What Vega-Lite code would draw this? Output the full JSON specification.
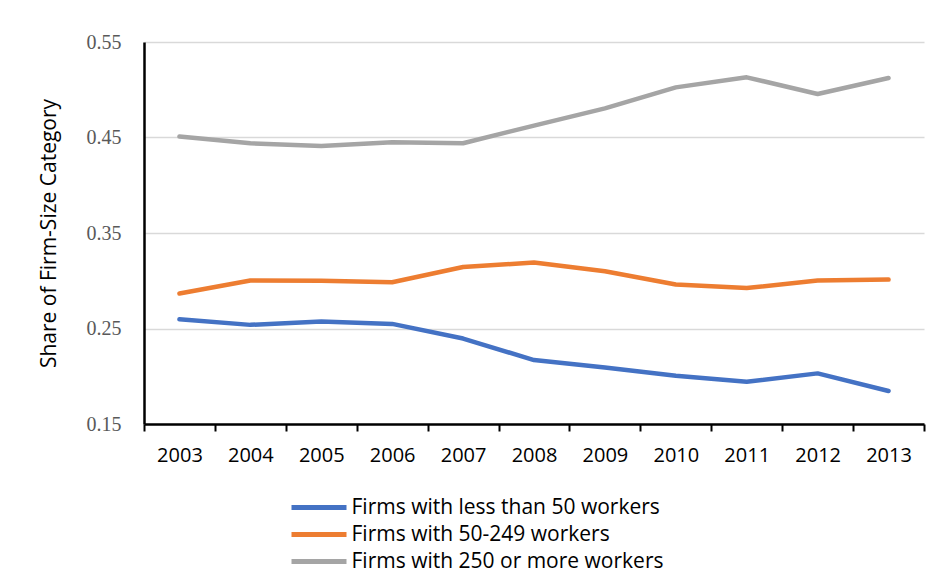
{
  "$schema": "https://vega.github.io/schema/vega-lite/v6.json",
  "autosize": "none",
  "width": 780,
  "height": 382,
  "padding": {"left": 144, "top": 42, "right": 15, "bottom": 157},
  "background": "white",
  "data": {
    "values": [
      {"year": "2003", "series": "Firms with less than 50 workers", "share": 0.2597},
      {"year": "2004", "series": "Firms with less than 50 workers", "share": 0.2538},
      {"year": "2005", "series": "Firms with less than 50 workers", "share": 0.2573},
      {"year": "2006", "series": "Firms with less than 50 workers", "share": 0.2548},
      {"year": "2007", "series": "Firms with less than 50 workers", "share": 0.2395},
      {"year": "2008", "series": "Firms with less than 50 workers", "share": 0.2169},
      {"year": "2009", "series": "Firms with less than 50 workers", "share": 0.2092},
      {"year": "2010", "series": "Firms with less than 50 workers", "share": 0.2005},
      {"year": "2011", "series": "Firms with less than 50 workers", "share": 0.1942},
      {"year": "2012", "series": "Firms with less than 50 workers", "share": 0.2030},
      {"year": "2013", "series": "Firms with less than 50 workers", "share": 0.1845},
      {"year": "2003", "series": "Firms with 50-249 workers", "share": 0.2866},
      {"year": "2004", "series": "Firms with 50-249 workers", "share": 0.3002},
      {"year": "2005", "series": "Firms with 50-249 workers", "share": 0.3000},
      {"year": "2006", "series": "Firms with 50-249 workers", "share": 0.2984},
      {"year": "2007", "series": "Firms with 50-249 workers", "share": 0.3144},
      {"year": "2008", "series": "Firms with 50-249 workers", "share": 0.3190},
      {"year": "2009", "series": "Firms with 50-249 workers", "share": 0.3100},
      {"year": "2010", "series": "Firms with 50-249 workers", "share": 0.2960},
      {"year": "2011", "series": "Firms with 50-249 workers", "share": 0.2924},
      {"year": "2012", "series": "Firms with 50-249 workers", "share": 0.3002},
      {"year": "2013", "series": "Firms with 50-249 workers", "share": 0.3012},
      {"year": "2003", "series": "Firms with 250 or more workers", "share": 0.4510},
      {"year": "2004", "series": "Firms with 250 or more workers", "share": 0.4440},
      {"year": "2005", "series": "Firms with 250 or more workers", "share": 0.4410},
      {"year": "2006", "series": "Firms with 250 or more workers", "share": 0.4450},
      {"year": "2007", "series": "Firms with 250 or more workers", "share": 0.4440},
      {"year": "2008", "series": "Firms with 250 or more workers", "share": 0.4625},
      {"year": "2009", "series": "Firms with 250 or more workers", "share": 0.4805},
      {"year": "2010", "series": "Firms with 250 or more workers", "share": 0.5025},
      {"year": "2011", "series": "Firms with 250 or more workers", "share": 0.5130},
      {"year": "2012", "series": "Firms with 250 or more workers", "share": 0.4955},
      {"year": "2013", "series": "Firms with 250 or more workers", "share": 0.5123}
    ]
  },
  "mark": {"type": "line", "strokeWidth": 4.5, "strokeCap": "round", "strokeJoin": "round"},
  "encoding": {
    "x": {
      "field": "year",
      "type": "ordinal",
      "title": null,
      "scale": {"paddingInner": 0, "paddingOuter": 0},
      "axis": {
        "labelAngle": 0,
        "labelFont": "Open Sans",
        "labelFontSize": 20,
        "labelColor": "#000000",
        "labelPadding": 14,
        "tickBand": "extent",
        "tickColor": "#000000",
        "tickSize": 7,
        "tickWidth": 2,
        "domainColor": "#000000",
        "domainWidth": 2.5,
        "grid": false
      }
    },
    "y": {
      "field": "share",
      "type": "quantitative",
      "title": "Share of Firm-Size Category",
      "scale": {"domain": [0.15, 0.55], "nice": false, "zero": false},
      "axis": {
        "values": [0.15, 0.25, 0.35, 0.45, 0.55],
        "format": ".2f",
        "labelFont": "Liberation Serif",
        "labelFontSize": 20,
        "labelColor": "#595959",
        "labelPadding": 23,
        "ticks": false,
        "domainColor": "#000000",
        "domainWidth": 2.5,
        "grid": true,
        "gridColor": "#d9d9d9",
        "gridWidth": 1.5,
        "titleFont": "Open Sans",
        "titleFontSize": 21,
        "titleFontWeight": "normal",
        "titleColor": "#000000",
        "titlePadding": 27
      }
    },
    "color": {
      "field": "series",
      "type": "nominal",
      "sort": ["Firms with less than 50 workers", "Firms with 50-249 workers", "Firms with 250 or more workers"],
      "scale": {
        "domain": ["Firms with less than 50 workers", "Firms with 50-249 workers", "Firms with 250 or more workers"],
        "range": ["#4472C4", "#ED7D31", "#A5A5A5"]
      },
      "legend": {
        "title": null,
        "orient": "none",
        "legendX": 164.5,
        "legendY": 455,
        "padding": 0,
        "symbolType": "M-5.5,0H5.5",
        "symbolSize": 100,
        "symbolStrokeWidth": 5,
        "symbolStrokeCap": "round",
        "labelFont": "Open Sans",
        "labelFontSize": 21,
        "labelColor": "#000000",
        "labelOffset": 22,
        "rowPadding": 5,
        "labelLimit": 500
      }
    }
  },
  "config": {
    "view": {"stroke": null}
  }
}
